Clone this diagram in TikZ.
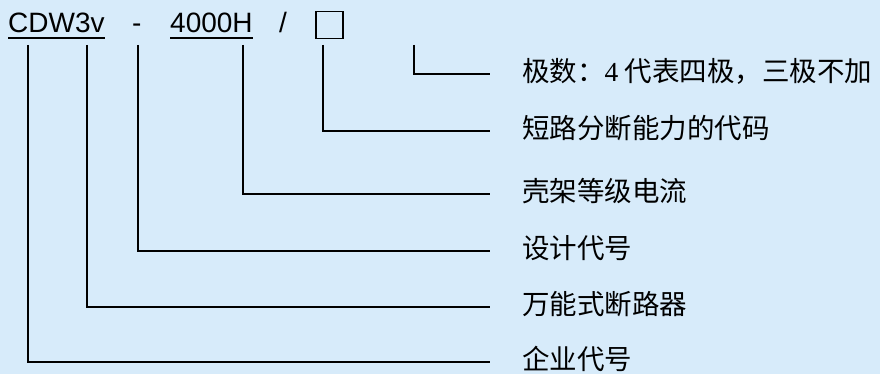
\documentclass[tikz,border=0pt]{standalone}
\usepackage{fontspec}
\setmainfont{Liberation Sans}
\newfontfamily\cjk{Noto Sans CJK SC}
\newfontfamily\numfont{Liberation Serif}
\usetikzlibrary{positioning}
\definecolor{paleblue}{RGB}{215,235,250}

\begin{document}
\begin{tikzpicture}[x=1pt,y=-1pt,
	code/.style={inner sep=0pt,anchor=base west,font=\fontsize{28}{28}\selectfont},
	desc/.style={inner sep=0pt,anchor=west,font=\cjk\fontsize{27.5}{28}\selectfont},
	lead/.style={line width=1.4pt}]
	\fill[paleblue] (0,0) rectangle (880,374);
	\useasboundingbox (0,0) rectangle (880,374);
	% model code
	\node[code] (series) at (8,33) {CDW3v};
	\node[code] (dash) at (132,33) {-};
	\node[code] (frame) at (170,33) {4000H};
	\node[code] (slash) at (279,33) {/};
	\node[draw,line width=1.4pt,minimum size=27pt,inner sep=0pt] (box) at (329.5,25) {};
	\draw[lead] ([yshift=-5pt]series.base west) -- ([yshift=-5pt]series.base east);
	\draw[lead] ([yshift=-5pt]frame.base west) -- ([yshift=-5pt]frame.base east);
	% leaders
	\coordinate (s1) at (414,45);
	\coordinate (s2) at (323,45);
	\coordinate (s3) at (243,45);
	\coordinate (s4) at (138,45);
	\coordinate (s5) at (87,45);
	\coordinate (s6) at (28,45);
	\coordinate (e1) at (490,74);
	\coordinate (e2) at (490,131);
	\coordinate (e3) at (490,194);
	\coordinate (e4) at (490,251);
	\coordinate (e5) at (490,307);
	\coordinate (e6) at (490,362);
	\draw[lead] (s1) |- (e1);
	\draw[lead] (s2) |- (e2);
	\draw[lead] (s3) |- (e3);
	\draw[lead] (s4) |- (e4);
	\draw[lead] (s5) |- (e5);
	\draw[lead] (s6) |- (e6);
	% descriptions
	\node[desc,right=32pt of e1,yshift=3pt] (poles) {极数：{\numfont 4} 代表四极，三极不加};
	\node[desc,right=32pt of e2,yshift=3pt] (breaking) {短路分断能力的代码};
	\node[desc,right=32pt of e3,yshift=3pt] (current) {壳架等级电流};
	\node[desc,right=32pt of e4,yshift=3pt] (design) {设计代号};
	\node[desc,right=32pt of e5,yshift=3pt] (acb) {万能式断路器};
	\node[desc,right=32pt of e6,yshift=3pt] (maker) {企业代号};
\end{tikzpicture}
\end{document}
